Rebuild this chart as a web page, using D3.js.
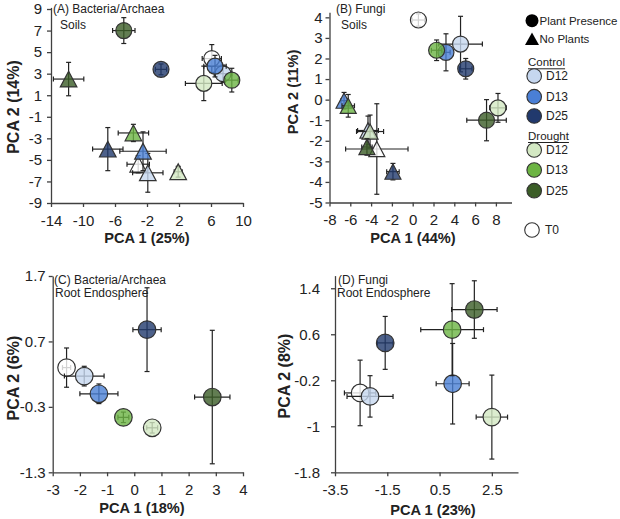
<!DOCTYPE html>
<html><head><meta charset="utf-8">
<script src="https://cdn.jsdelivr.net/npm/d3@7"></script>
<style>
body{margin:0;background:#fff}
text{font-family:"Liberation Sans",Arial,sans-serif;fill:#222}
</style>
</head><body>
<svg id="chart" width="620" height="519"></svg>
<script>
// ---------- DATA ----------
const groups = ["T0","Control D12","Control D13","Control D25","Drought D12","Drought D13","Drought D25"];
const groupColors = ["#ffffff","#c6d7ef","#4a7fd5","#21396d","#d3e8c3","#6cb443","#3b5d27"];

// (A) Bacteria/Archaea Soils – plant presence (circles)
const aPlantX    = [6.1, 7.5, 6.5, -0.25, 5.1, 8.6, -4.9];
const aPlantY    = [4.4, 3.0, 3.7, 3.4, 2.1, 2.4, 7.0];
const aPlantXErr = [1.2, 1.1, 1.4, 0.7, 2.3, 0.8, 1.4];
const aPlantYErr = [1.3, 0.8, 1.0, 0.5, 1.6, 1.1, 1.2];
// (A) no plants (triangles)
const aNoPlantX    = [-3.1, -1.9, -2.5, -6.9, 1.9, -3.7, -11.8];
const aNoPlantY    = [-5.4, -6.2, -4.2, -4.0, -6.1, -2.5, 2.5];
const aNoPlantXErr = [1.4, 1.9, 2.9, 1.9, 0.5, 1.9, 1.9];
const aNoPlantYErr = [0.8, 1.8, 1.8, 2.0, 0.5, 0.8, 1.55];

// (B) Fungi Soils
const bPlantX    = [0.55, 4.6, 3.2, 5.1, 8.2, 2.3, 7.1];
const bPlantY    = [3.87, 2.7, 2.3, 1.5, -0.4, 2.4, -1.0];
const bPlantXErr = [0.6, 2.1, 0.4, 0.6, 0.8, 0.5, 1.9];
const bPlantYErr = [0.3, 1.35, 0.9, 0.5, 0.7, 0.5, 1.0];
const bNoPlantX    = [-3.45, -4.3, -6.6, -1.9, -4.1, -6.2, -4.4];
const bNoPlantY    = [-2.4, -1.5, -0.05, -3.5, -1.55, -0.3, -2.3];
const bNoPlantXErr = [3.0, 1.0, 0.3, 0.6, 1.3, 0.6, 0.5];
const bNoPlantYErr = [2.2, 0.7, 0.4, 0.4, 0.8, 0.55, 0.4];

// (C) Bacteria/Archaea Root Endosphere
const cX    = [-2.49, -1.84, -1.3, 0.47, 0.66, -0.4, 2.87];
const cY    = [0.3, 0.17, -0.1, 0.88, -0.62, -0.46, -0.15];
const cXErr = [0.15, 0.73, 0.7, 0.52, 0.2, 0.2, 0.65];
const cYErr = [0.3, 0.15, 0.15, 0.64, 0.08, 0.08, 1.02];

// (D) Fungi Root Endosphere
const dX    = [-2.54, -2.16, 1.0, -1.58, 2.5, 0.98, 1.83];
const dY    = [-0.42, -0.48, -0.26, 0.45, -0.84, 0.68, 1.03];
const dXErr = [0.6, 0.88, 0.63, 0.3, 0.6, 1.2, 0.87];
const dYErr = [0.57, 0.36, 0.7, 0.46, 0.73, 0.8, 0.5];

// tick labels
const aXTicks = [-14,-10,-6,-2,2,6,10];
const aYTicks = [9,7,5,3,1,-1,-3,-5,-7,-9];
const bXTicks = [-8,-6,-4,-2,0,2,4,6,8];
const bYTicks = [4,3,2,1,0,-1,-2,-3,-4,-5];
const cXTicks = [-3,-2,-1,0,1,2,3,4];
const cYTicks = [1.7,0.7,-0.3,-1.3];
const dXTicks = [-3.5,-1.5,0.5,2.5];
const dYTicks = [1.4,0.6,-0.2,-1,-1.8];

// ---------- DRAW ----------
const svg = d3.select("#chart");
const AX = "#404040", EB = "#222";

function makePanel(o){
  const x = d3.scaleLinear().domain(o.xd).range(o.xr);
  const y = d3.scaleLinear().domain(o.yd).range(o.yr);
  const g = svg.append("g");
  const xa = g.append("g").attr("transform",`translate(0,${o.yr[0]})`)
    .call(d3.axisBottom(x).tickValues(o.xt).tickSize(4).tickSizeOuter(0).tickPadding(8).tickFormat(d=>String(d)));
  const ya = g.append("g").attr("transform",`translate(${o.xr[0]},0)`)
    .call(d3.axisLeft(y).tickValues(o.yt).tickSize(4).tickSizeOuter(0).tickPadding(o.yPad).tickFormat(d=>String(d)));
  [xa,ya].forEach(a=>{
    a.select(".domain").attr("stroke",AX).attr("stroke-width",1.3);
    a.selectAll(".tick line").attr("stroke",AX).attr("stroke-width",1.3);
    a.selectAll(".tick text").style("font-size","15px").attr("fill","#222");
  });
  g.append("text").attr("x",o.xtitle[0]).attr("y",o.xtitle[1]).attr("text-anchor","middle")
    .attr("dominant-baseline","central").style("font-size","14.6px").style("font-weight","bold").text(o.xlab);
  g.append("text").attr("transform",`translate(${o.ytitle[0]},${o.ytitle[1]}) rotate(-90)`).attr("text-anchor","middle")
    .attr("dominant-baseline","central").style("font-size",o.ytSize+"px").style("font-weight","bold").text(o.ylab);
  o.labels.forEach(l=>g.append("text").attr("x",l[0]).attr("y",l[1]).style("font-size","12px").text(l[2]));
  return {g,x,y};
}

function drawSeries(p, xs, ys, xe, ye, shape, size){
  const {g,x,y} = p;
  groups.forEach((name,i)=>{
    const cx = x(xs[i]), cy = y(ys[i]);
    const s = g.append("g");
    const x1 = x(xs[i]-xe[i]), x2 = x(xs[i]+xe[i]);
    const y1 = y(ys[i]-ye[i]), y2 = y(ys[i]+ye[i]);
    const cap = 2.5;
    const lines = [[x1,cy,x2,cy],[x1,cy-cap,x1,cy+cap],[x2,cy-cap,x2,cy+cap],
                   [cx,y1,cx,y2],[cx-cap,y1,cx+cap,y1],[cx-cap,y2,cx+cap,y2]];
    s.selectAll("line").data(lines).join("line")
      .attr("x1",d=>d[0]).attr("y1",d=>d[1]).attr("x2",d=>d[2]).attr("y2",d=>d[3])
      .attr("stroke",EB).attr("stroke-width",1.2);
    if(shape==="circle"){
      s.append("circle").attr("cx",cx).attr("cy",cy).attr("r",size)
        .attr("fill",groupColors[i]).attr("fill-opacity",0.8).attr("stroke","#333").attr("stroke-width",1.2);
    } else {
      const w=size*2, h=size*1.9;
      s.append("path").attr("d",`M${cx},${cy-h/2}L${cx+w/2},${cy+h/2}L${cx-w/2},${cy+h/2}Z`)
        .attr("fill",groupColors[i]).attr("fill-opacity",0.8).attr("stroke","#333").attr("stroke-width",1.2);
    }
  });
}

const pA = makePanel({xd:[-14,10], xr:[51,243], yd:[-9,9.15], yr:[203,7.4], xt:aXTicks, yt:aYTicks, yPad:5,
  xlab:"PCA 1 (25%)", ylab:"PCA 2 (14%)", xtitle:[147,238], ytitle:[13,107], ytSize:16,
  labels:[[53,13,"(A) Bacteria/Archaea"],[60,29,"Soils"]]});
drawSeries(pA, aPlantX, aPlantY, aPlantXErr, aPlantYErr, "circle", 8);
drawSeries(pA, aNoPlantX, aNoPlantY, aNoPlantXErr, aNoPlantYErr, "tri", 8.3);

const pB = makePanel({xd:[-8,9.5], xr:[329.5,511.5], yd:[-5,4.25], yr:[202.5,12.2], xt:bXTicks, yt:bYTicks, yPad:3,
  xlab:"PCA 1 (44%)", ylab:"PCA 2 (11%)", xtitle:[413,238], ytitle:[293,92], ytSize:14.6,
  labels:[[336,13,"(B) Fungi"],[341,29,"Soils"]]});
drawSeries(pB, bPlantX, bPlantY, bPlantXErr, bPlantYErr, "circle", 8);
drawSeries(pB, bNoPlantX, bNoPlantY, bNoPlantXErr, bNoPlantYErr, "tri", 8);

const pC = makePanel({xd:[-3,4], xr:[52.7,243], yd:[-1.3,1.7], yr:[472.3,276], xt:cXTicks, yt:cYTicks, yPad:3,
  xlab:"PCA 1 (18%)", ylab:"PCA 2 (6%)", xtitle:[142,508], ytitle:[13,378], ytSize:16,
  labels:[[54,284,"(C) Bacteria/Archaea"],[55,297,"Root Endosphere"]]});
drawSeries(pC, cX, cY, cXErr, cYErr, "circle", 8.8);

const pD = makePanel({xd:[-3.5,3.5], xr:[335,518], yd:[-1.8,1.62], yr:[472.3,275.6], xt:dXTicks, yt:dYTicks, yPad:11,
  xlab:"PCA 1 (23%)", ylab:"PCA 2 (8%)", xtitle:[433,510], ytitle:[284,376], ytSize:16,
  labels:[[338,284,"(D) Fungi"],[337,297,"Root Endosphere"]]});
drawSeries(pD, dX, dY, dXErr, dYErr, "circle", 8.8);

// ---------- LEGEND ----------
const lg = svg.append("g");
const LF = "11.5px";
lg.append("circle").attr("cx",532).attr("cy",20.7).attr("r",6.5).attr("fill","#000");
lg.append("text").attr("x",539.5).attr("y",20.7).attr("dominant-baseline","central").style("font-size",LF).text("Plant Presence");
lg.append("path").attr("d","M532,32.5L539,45L525,45Z").attr("fill","#000");
lg.append("text").attr("x",539.5).attr("y",39).attr("dominant-baseline","central").style("font-size",LF).text("No Plants");
const legendHeads = [["Control",62.3],["Drought",136]];
legendHeads.forEach(h=>{
  const t = lg.append("text").attr("x",528).attr("y",h[1]).attr("dominant-baseline","central").style("font-size",LF).text(h[0]);
  const w = t.node().getComputedTextLength();
  lg.append("line").attr("x1",528).attr("x2",528+w).attr("y1",h[1]+6.5).attr("y2",h[1]+6.5).attr("stroke","#222").attr("stroke-width",1);
});
const legendY = [230, 76, 96.7, 116, 150, 170, 190.7];
const legendLab = ["T0","D12","D13","D25","D12","D13","D25"];
groups.forEach((g,i)=>{
  const cx = i===0 ? 532 : 534.2;
  lg.append("circle").attr("cx",cx).attr("cy",legendY[i]).attr("r",7.3)
    .attr("fill",groupColors[i]).attr("stroke","#333").attr("stroke-width",1.1);
  lg.append("text").attr("x",i===0?545:546).attr("y",legendY[i]).attr("dominant-baseline","central")
    .style("font-size","12px").text(legendLab[i]);
});
</script>
</body></html>
